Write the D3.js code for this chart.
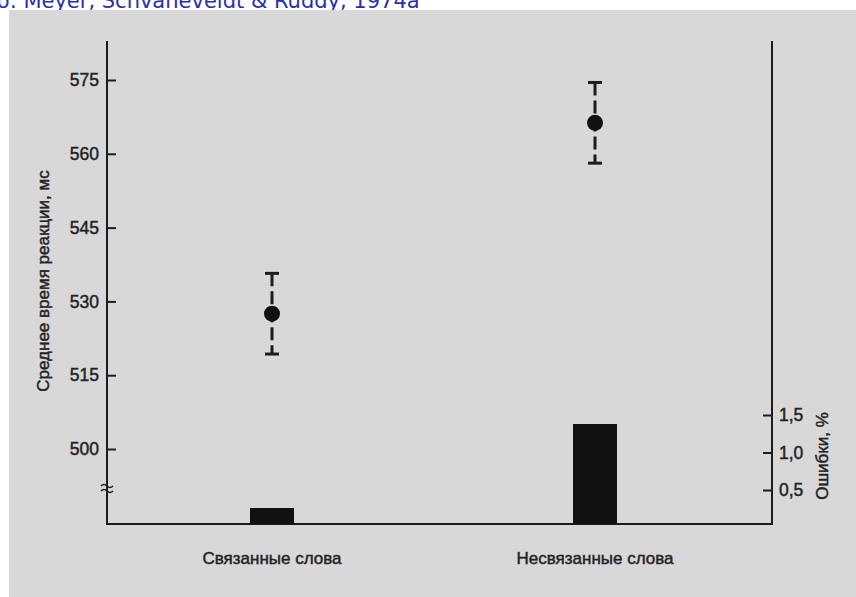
<!DOCTYPE html>
<html>
<head>
<meta charset="utf-8">
<script src="https://cdn.jsdelivr.net/npm/d3@7"></script>
<style>
  html, body { margin: 0; padding: 0; background: #ffffff; }
  svg { display: block; }
  .lbl { font-family: "Liberation Sans", Arial, Helvetica, sans-serif; }
  .lbl text, text.lbl { stroke: #232323; stroke-width: 0.45px; }
</style>
</head>
<body>
<svg id="chart" width="856" height="597"></svg>
<script>
// Word categories on the x axis
const categories = ["Связанные слова", "Несвязанные слова"];
// Mean reaction time, ms (points) and its spread (error bars)
const meanRT = [527.5, 566.3];
const errRT = [8.2, 8.2];
// Error rate, % (bars)
const errorPct = [0.26, 1.38];
// Tick values
const rtTicks = [500, 515, 530, 545, 560, 575];
const pctTicks = [0.5, 1.0, 1.5];

const svg = d3.select("#chart");
const ink = "#1c1c1c";
const textInk = "#232323";

// Source line at the very top, partly hidden under the figure
svg.append("text")
  .attr("x", -19).attr("y", 8)
  .attr("font-family", "DejaVu Sans, Verdana, sans-serif")
  .attr("font-size", 21)
  .attr("fill", "#2b30aa")
  .text("По: Meyer, Schvaneveldt & Ruddy, 1974a");

// Scanned figure background
svg.append("rect")
  .attr("x", 9).attr("y", 10).attr("width", 847).attr("height", 587)
  .attr("fill", "#d8d8d8");

// Scales
const x = d3.scalePoint().domain(categories).range([272, 595]);
const yRT = d3.scaleLinear().domain([500, 575]).range([449, 80]);
const yPct = d3.scaleLinear().domain([0.5, 1.5]).range([490, 415]);

const leftX = 107, rightX = 772, baseY = 524, topY = 41;

// Frame lines
const g = svg.append("g");
g.append("line").attr("x1", leftX).attr("x2", leftX).attr("y1", topY).attr("y2", baseY)
  .attr("stroke", ink).attr("stroke-width", 2);
g.append("line").attr("x1", rightX).attr("x2", rightX).attr("y1", topY).attr("y2", baseY)
  .attr("stroke", ink).attr("stroke-width", 2);
g.append("line").attr("x1", leftX - 1).attr("x2", rightX + 1).attr("y1", baseY).attr("y2", baseY)
  .attr("stroke", ink).attr("stroke-width", 2);

// Axis break mark on the left axis
const brk = svg.append("g").attr("fill", "none").attr("stroke", ink).attr("stroke-width", 1.6);
[-3, 2].forEach(dy => {
  brk.append("path")
    .attr("d", `M${leftX - 6},${489 + dy} q3,-3 6,0 t6,0`);
});

// Left axis (reaction time)
const axL = svg.append("g").attr("transform", `translate(${leftX},0)`)
  .call(d3.axisLeft(yRT).tickValues(rtTicks).tickSizeInner(-9).tickSizeOuter(0).tickPadding(8));
axL.attr("font-family", null).attr("class", "lbl");
axL.select(".domain").remove();
axL.selectAll(".tick line").attr("stroke", ink).attr("stroke-width", 2);
axL.selectAll(".tick text").attr("fill", textInk).attr("font-size", 17.5);

// Right axis (errors)
const axR = svg.append("g").attr("transform", `translate(${rightX},0)`)
  .call(d3.axisRight(yPct).tickValues(pctTicks).tickSizeInner(-9).tickSizeOuter(0).tickPadding(7)
    .tickFormat(d => d3.format(".1f")(d).replace(".", ",")));
axR.attr("font-family", null).attr("class", "lbl");
axR.select(".domain").remove();
axR.selectAll(".tick line").attr("stroke", ink).attr("stroke-width", 2);
axR.selectAll(".tick text").attr("fill", textInk).attr("font-size", 17.5);

// Error-rate bars
const barW = 44;
svg.append("g").selectAll("rect").data(categories).join("rect")
  .attr("x", d => x(d) - barW / 2)
  .attr("width", barW)
  .attr("y", (d, i) => yPct(errorPct[i]))
  .attr("height", (d, i) => baseY - yPct(errorPct[i]))
  .attr("fill", "#111");

// Reaction-time points with dashed error bars
const pts = svg.append("g").selectAll("g").data(categories).join("g");
pts.append("line")
  .attr("x1", d => x(d)).attr("x2", d => x(d))
  .attr("y1", (d, i) => yRT(meanRT[i] + errRT[i]))
  .attr("y2", (d, i) => yRT(meanRT[i] - errRT[i]))
  .attr("stroke", ink).attr("stroke-width", 3)
  .attr("stroke-dasharray", "13,5");
pts.append("line")
  .attr("x1", d => x(d) - 7).attr("x2", d => x(d) + 7)
  .attr("y1", (d, i) => yRT(meanRT[i] + errRT[i]))
  .attr("y2", (d, i) => yRT(meanRT[i] + errRT[i]))
  .attr("stroke", ink).attr("stroke-width", 3);
pts.append("line")
  .attr("x1", d => x(d) - 7).attr("x2", d => x(d) + 7)
  .attr("y1", (d, i) => yRT(meanRT[i] - errRT[i]))
  .attr("y2", (d, i) => yRT(meanRT[i] - errRT[i]))
  .attr("stroke", ink).attr("stroke-width", 3);
pts.append("circle")
  .attr("cx", d => x(d))
  .attr("cy", (d, i) => yRT(meanRT[i]))
  .attr("r", 8)
  .attr("fill", "#111");

// Category labels
svg.append("g").attr("class", "lbl").selectAll("text").data(categories).join("text")
  .attr("x", d => x(d)).attr("y", 564)
  .attr("text-anchor", "middle")
  .attr("font-size", 17)
  .attr("fill", textInk)
  .text(d => d);

// Axis titles
svg.append("text").attr("class", "lbl")
  .attr("transform", "translate(49,281) rotate(-90)")
  .attr("text-anchor", "middle")
  .attr("font-size", 17).attr("fill", textInk)
  .text("Среднее время реакции, мс");
svg.append("text").attr("class", "lbl")
  .attr("transform", "translate(828,456) rotate(-90)")
  .attr("text-anchor", "middle")
  .attr("font-size", 17).attr("fill", textInk)
  .text("Ошибки, %");
</script>
</body>
</html>
